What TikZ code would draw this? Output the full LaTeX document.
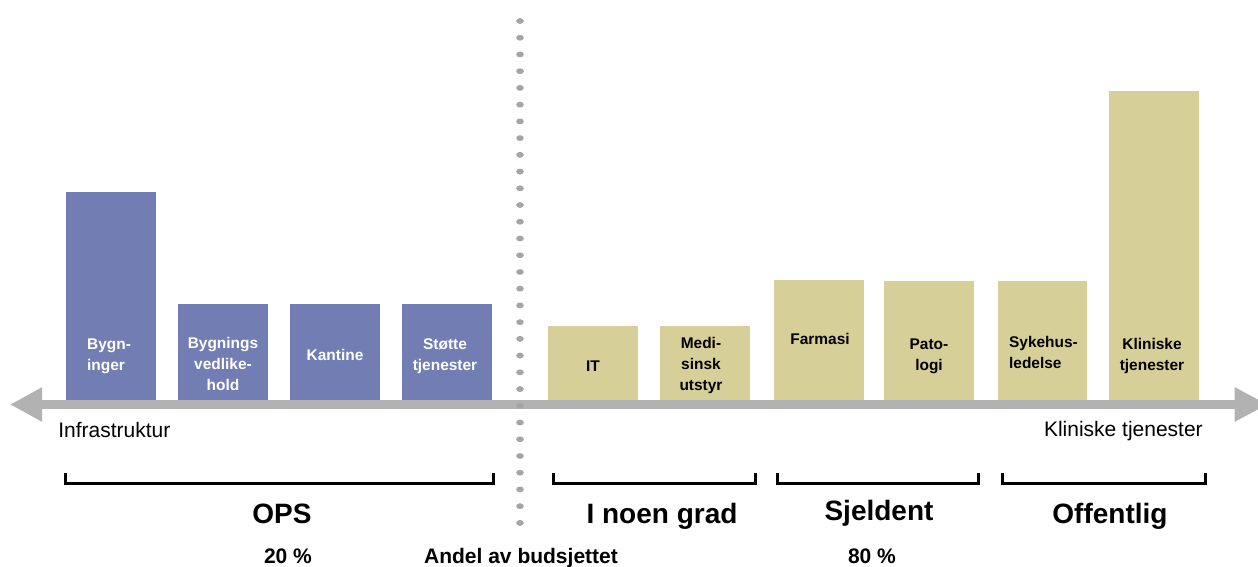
\documentclass[tikz,border=0pt]{standalone}
\usepackage{fontspec}
\setmainfont{Liberation Sans}
\usetikzlibrary{arrows.meta}
\definecolor{barblue}{RGB}{114,125,180}
\definecolor{bartan}{RGB}{214,207,152}
\definecolor{axisgray}{RGB}{178,178,178}
\definecolor{dotgray}{RGB}{165,165,165}
\begin{document}
\begin{tikzpicture}[x=0.75pt,y=-0.75pt,
  bar/.style={draw=none, inner sep=0, anchor=south west, minimum width=67.5pt},
  bluebar/.style={bar, fill=barblue},
  tanbar/.style={bar, fill=bartan},
  barlabel/.style={font=\bfseries\fontsize{11.6}{15.4}\selectfont, inner sep=0, align=center, anchor=base},
  whitelabel/.style={barlabel, text=white},
  blacklabel/.style={barlabel, text=black},
  bracket/.style={draw=black, line width=2.25pt},
  grouplabel/.style={font=\bfseries\fontsize{21}{25}\selectfont, inner sep=0, anchor=base},
  bottomlabel/.style={font=\bfseries\fontsize{15.75}{19}\selectfont, inner sep=0, anchor=base},
  endlabel/.style={font=\fontsize{15.75}{19}\selectfont, inner sep=0}
]
\useasboundingbox (0,0) rectangle (1258,567);

% bars
\node[bluebar, minimum height=156pt] (b1) at (66,400) {};
\node[bluebar, minimum height=72pt] (b2) at (178,400) {};
\node[bluebar, minimum height=72pt] (b3) at (290,400) {};
\node[bluebar, minimum height=72pt] (b4) at (402,400) {};
\node[tanbar, minimum height=55.5pt] (t1) at (548,400) {};
\node[tanbar, minimum height=55.5pt] (t2) at (660,400) {};
\node[tanbar, minimum height=90pt] (t3) at (774,400) {};
\node[tanbar, minimum height=89.25pt] (t4) at (884,400) {};
\node[tanbar, minimum height=89.25pt, minimum width=66.75pt] (t5) at (998,400) {};
\node[tanbar, minimum height=231.75pt] (t6) at (1109,400) {};

% bar labels (anchor = baseline of last line)
\node[whitelabel, align=left] (l1) at (109,370) {Bygn-\\inger};
\node[whitelabel] (l2) at (223,390) {Bygnings\\vedlike-\\hold};
\node[whitelabel] (l3) at (335,360) {Kantine};
\node[whitelabel] (l4) at (445,370) {Støtte\\tjenester};
\node[blacklabel] (l5) at (593,371) {IT};
\node[blacklabel] (l6) at (701,390) {Medi-\\sinsk\\utstyr};
\node[blacklabel] (l7) at (820,344) {Farmasi};
\node[blacklabel] (l8) at (929,370) {Pato-\\logi};
\node[blacklabel, align=left] (l9) at (1043.5,368) {Sykehus-\\ledelse};
\node[blacklabel] (l10) at (1152,370) {Kliniske\\tjenester};

% axis arrow
\coordinate (aL) at (10,404.5);
\coordinate (aR) at (1268,404.5);
\draw[axisgray, line width=6.75pt, {Triangle[length=24pt,width=24pt]}-{Triangle[length=25pt,width=24pt]}] (aL) -- (aR);

% dotted separator
\foreach \i in {0,...,30}
  \fill[dotgray] (520,{21+16.73*\i}) ellipse (2.85pt and 2.2pt);

% axis end labels
\node[endlabel, anchor=base west] (infra) at (58,437) {Infrastruktur};
\node[endlabel, anchor=base east] (klin) at (1203,436) {Kliniske tjenester};

% brackets
\draw[bracket] (65,473) -- (65,483) -- (493,483) -- (493,473);
\draw[bracket] (553,473) -- (553,483) -- (755,483) -- (755,473);
\draw[bracket] (777,473) -- (777,483) -- (978,483) -- (978,473);
\draw[bracket] (1002,473) -- (1002,483) -- (1205,483) -- (1205,473);

% group labels
\node[grouplabel] (ops) at (282,523) {OPS};
\node[grouplabel] (noen) at (662,523) {I noen grad};
\node[grouplabel] (sjeld) at (879,520) {Sjeldent};
\node[grouplabel] (off) at (1110,523) {Offentlig};

% bottom labels
\node[bottomlabel] (p20) at (288,563) {20 \%};
\node[bottomlabel] (andel) at (521,563) {Andel av budsjettet};
\node[bottomlabel] (p80) at (872,563) {80 \%};
\end{tikzpicture}
\end{document}
